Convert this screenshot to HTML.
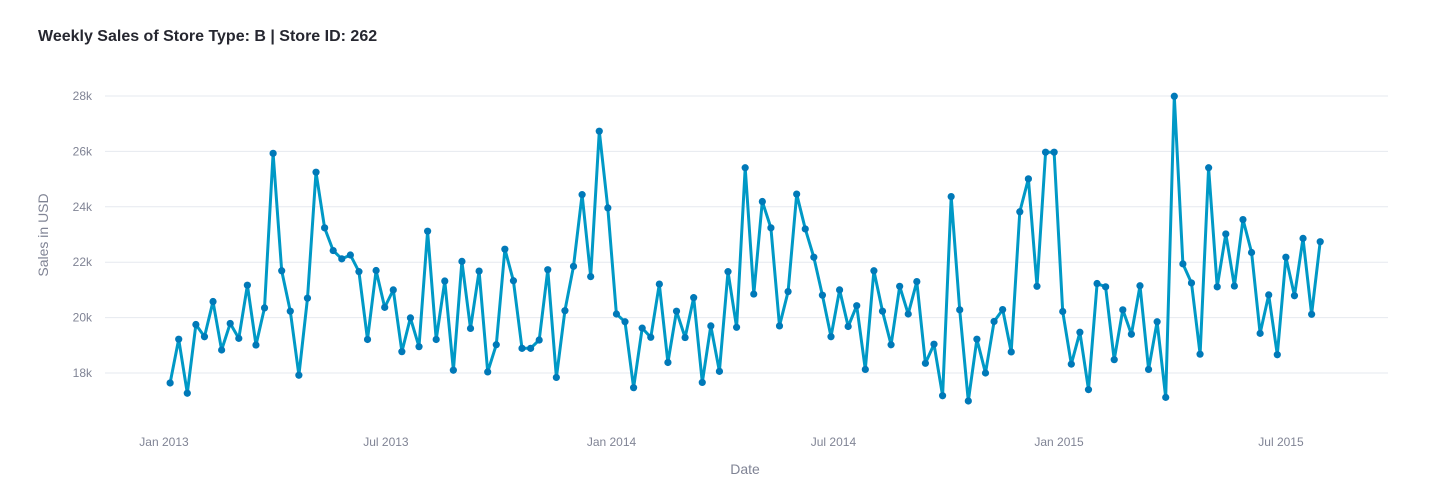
<!DOCTYPE html>
<html><head><meta charset="utf-8"><style>
body{margin:0;background:#fff;font-family:"Liberation Sans",sans-serif;}
svg text{font-family:"Liberation Sans",sans-serif;}
</style></head><body>
<svg id="chart" width="1433" height="488" xmlns="http://www.w3.org/2000/svg">
<text x="38" y="41" font-size="16" font-weight="bold" fill="#262730">Weekly Sales of Store Type: B | Store ID: 262</text>
<g id="grid"></g><g id="yticks"></g><g id="xticks"></g><g id="series"></g>
<text transform="translate(48,235) rotate(-90)" text-anchor="middle" font-size="14" fill="#808495">Sales in USD</text>
<text x="745" y="474" text-anchor="middle" font-size="14" fill="#808495">Date</text>
</svg>
<script>
const startDate = "2013-01-06";
const sales = [17.64,19.22,17.27,19.75,19.31,20.58,18.83,19.79,19.25,21.17,19.01,20.35,25.93,21.69,20.23,17.92,20.70,25.25,23.24,22.42,22.12,22.26,21.66,19.21,21.70,20.37,21.0,18.77,19.99,18.95,23.12,19.21,21.32,
18.10,22.03,19.61,21.68,18.04,19.02,22.47,21.33,18.89,18.89,19.19,21.73,17.84,20.25,21.85,24.44,21.48,26.73,23.96,20.13,19.85,17.47,19.62,19.29,21.21,18.38,20.23,19.28,20.72,17.66,19.70,18.06,21.66,19.65,
25.41,20.85,24.19,23.24,19.70,20.94,24.46,23.20,22.18,20.81,19.31,21.0,19.68,20.43,18.13,21.69,20.23,19.02,21.13,20.13,21.30,18.35,19.04,17.18,24.37,20.28,16.99,19.22,18.0,19.86,20.29,18.76,23.82,25.01,
21.13,25.97,25.97,20.22,18.32,19.47,17.40,21.23,21.11,18.48,20.28,19.40,21.15,18.13,19.85,17.12,27.99,21.94,21.25,18.68,25.41,21.11,23.02,21.14,23.54,22.35,19.43,20.82,18.66,22.18,20.79,22.86,20.12,22.74];
const yTicks = [18,20,22,24,26,28];
const xTickDates = ["2013-01-01","2013-07-01","2014-01-01","2014-07-01","2015-01-01","2015-07-01"];
const xTickLabels = ["Jan 2013","Jul 2013","Jan 2014","Jul 2014","Jan 2015","Jul 2015"];
const NS="http://www.w3.org/2000/svg";
const day=86400000, t0=Date.parse("2013-01-01");
function xs(d){return 164+(Date.parse(d)-t0)/day*1.2261;}
function xsMs(ms){return 164+(ms-t0)/day*1.2261;}
function ys(v){return 373-(v-18)*27.7;}
function mk(tag,attrs,parent){const e=document.createElementNS(NS,tag);for(const k in attrs)e.setAttribute(k,attrs[k]);document.getElementById(parent).appendChild(e);return e;}
yTicks.forEach(v=>{
  const l=mk('line',{x1:105,x2:1388,y1:ys(v),y2:ys(v),stroke:'#e6e9ef','stroke-width':1},'grid');
  
  
  const t=mk('text',{x:92,y:ys(v)+4,'text-anchor':'end','font-size':12,fill:'#808495'},'yticks');
  t.textContent=v+'k';
  
  
});
xTickDates.forEach((d,i)=>{
  const t=mk('text',{x:xs(d),y:446,'text-anchor':'middle','font-size':12,fill:'#808495'},'xticks');
  t.textContent=xTickLabels[i];
  
  
});
const s0=Date.parse(startDate);
const pts=sales.map((v,i)=>[xsMs(s0+i*7*day),ys(v)]);
const pl=mk('polyline',{points:pts.map(p=>p[0].toFixed(1)+','+p[1].toFixed(1)).join(' '),fill:'none',stroke:'#0099c6','stroke-width':3,'stroke-linejoin':'round'},'series');


pts.forEach(p=>{
  const c=mk('circle',{cx:p[0],cy:p[1],r:3.6,fill:'#0079b8'},'series');
  
  
});
</script>
</body></html>
